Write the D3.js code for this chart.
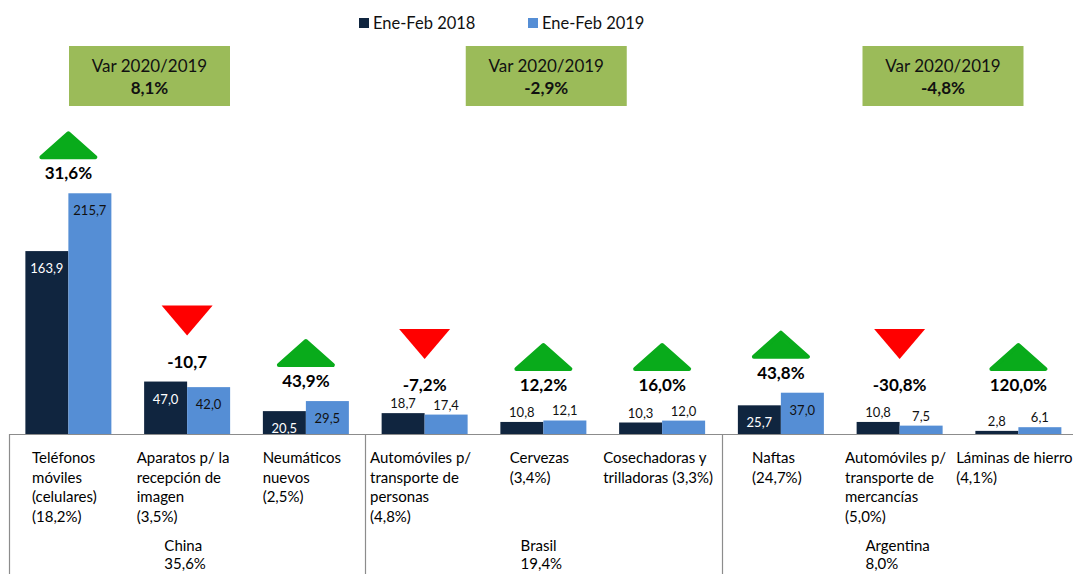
<!DOCTYPE html>
<html>
<head>
<meta charset="utf-8">
<script src="https://cdn.jsdelivr.net/npm/d3@7"></script>
<style>
  html, body { margin: 0; padding: 0; background: #fff; }
  svg { display: block; font-family: Lato, "Open Sans", sans-serif; }
</style>
</head>
<body>
<svg id="chart" width="1073" height="574"></svg>
<script>
// ---------- DATA ----------
const categories = [
  "Teléfonos móviles", "Aparatos p/ la recepción de imagen", "Neumáticos nuevos",
  "Automóviles p/ transporte de personas", "Cervezas", "Cosechadoras y trilladoras",
  "Naftas", "Automóviles p/ transporte de mercancías", "Láminas de hierro"
];
const categoryLines = [
  ["Teléfonos", "móviles", "(celulares)", "(18,2%)"],
  ["Aparatos p/ la", "recepción de", "imagen", "(3,5%)"],
  ["Neumáticos", "nuevos", "(2,5%)"],
  ["Automóviles p/", "transporte de", "personas", "(4,8%)"],
  ["Cervezas", "(3,4%)"],
  ["Cosechadoras y", "trilladoras (3,3%)"],
  ["Naftas", "(24,7%)"],
  ["Automóviles p/", "transporte de", "mercancías", "(5,0%)"],
  ["Láminas de hierro", "(4,1%)"]
];
const seriesNames = ["Ene-Feb 2018", "Ene-Feb 2019"];
const values2018 = [163.9, 47.0, 20.5, 18.7, 10.8, 10.3, 25.7, 10.8, 2.8];
const values2019 = [215.7, 42.0, 29.5, 17.4, 12.1, 12.0, 37.0, 7.5, 6.1];
const variationLabels = ["31,6%", "-10,7", "43,9%", "-7,2%", "12,2%", "16,0%", "43,8%", "-30,8%", "120,0%"];
const groups = ["China", "Brasil", "Argentina"];
const groupShares = ["35,6%", "19,4%", "8,0%"];
const groupVariation = ["8,1%", "-2,9%", "-4,8%"];
const groupMembers = [[0, 1, 2], [3, 4, 5], [6, 7, 8]];

// ---------- STYLE ----------
const colors = ["#10253F", "#558ED5"];
const boxColor = "#9BBB59";
const upColor = "#09AB1B";
const downColor = "#FF0000";
const lineColor = "#8C8C8C";

const W = 1073, H = 574;
const baseY = 434;
const svg = d3.select("#chart");

const x = d3.scaleBand().domain(categories).range([9, 1077.75])
  .paddingInner(0.2758).paddingOuter(0.1379);
const x1 = d3.scaleBand().domain(seriesNames).range([0, x.bandwidth()]);
const y = d3.scaleLinear().domain([0, 250]).range([baseY, 155]);
const fmt = v => d3.format(".1f")(v).replace(".", ",");

const rows = categories.map((c, i) => ({
  cat: c, i,
  vals: [values2018[i], values2019[i]]
}));

// ---------- LEGEND ----------
const legend = svg.append("g");
const legendX = d3.scalePoint().domain(seriesNames).range([359, 528]);
seriesNames.forEach((s, k) => {
  legend.append("rect").attr("x", legendX(s)).attr("y", 18).attr("width", 10).attr("height", 10)
    .attr("fill", colors[k]);
  legend.append("text").attr("x", legendX(s) + 14).attr("y", 29)
    .attr("font-size", 16.5).attr("fill", "#111").text(s);
});

// ---------- GROUP BOXES ----------
const boxX = d3.scalePoint().domain(groups).range([149.5, 943]);
groups.forEach((g, k) => {
  const cx = boxX(g);
  svg.append("rect").attr("x", cx - 80.5).attr("y", 46).attr("width", 161).attr("height", 60)
    .attr("fill", boxColor);
  svg.append("text").attr("x", cx).attr("y", 72).attr("text-anchor", "middle")
    .attr("font-size", 17).attr("fill", "#111").text("Var 2020/2019");
  svg.append("text").attr("x", cx).attr("y", 94).attr("text-anchor", "middle")
    .attr("font-size", 17).attr("font-weight", "bold").attr("fill", "#111").text(groupVariation[k]);
});

// ---------- BARS ----------
const gCat = svg.selectAll("g.cat").data(rows).join("g").attr("class", "cat")
  .attr("transform", d => `translate(${x(d.cat)},0)`);

gCat.selectAll("rect").data(d => d.vals.map((v, k) => ({ v, k })))
  .join("rect")
  .attr("x", d => x1(seriesNames[d.k]))
  .attr("y", d => y(d.v))
  .attr("width", x1.bandwidth())
  .attr("height", d => baseY - y(d.v))
  .attr("fill", d => colors[d.k]);

gCat.selectAll("text.val").data(d => d.vals.map((v, k) => ({ v, k })))
  .join("text").attr("class", "val")
  .attr("x", d => x1(seriesNames[d.k]) + x1.bandwidth() / 2)
  .attr("y", d => d.v >= 20 ? y(d.v) + 22 : y(d.v) - 5)
  .attr("text-anchor", "middle")
  .attr("font-size", 13)
  .attr("fill", d => (d.v >= 20 && d.k === 0) ? "#fff" : "#111")
  .text(d => fmt(d.v));

// ---------- VARIATION ANNOTATIONS ----------
rows.forEach(d => {
  const cx = x(d.cat) + x.bandwidth() / 2;
  const top = y(d3.max(d.vals));
  const ly = Math.min(top - 14, 391);
  const up = d.vals[1] >= d.vals[0];
  svg.append("text").attr("x", cx).attr("y", ly).attr("text-anchor", "middle")
    .attr("font-size", 17).attr("font-weight", "bold").attr("fill", "#000")
    .text(variationLabels[d.i]);
  if (up) {
    const b = ly - 22, h = 24, w = 54;
    svg.append("path")
      .attr("d", `M${cx - w / 2},${b} L${cx},${b - h} L${cx + w / 2},${b} Z`)
      .attr("fill", upColor).attr("stroke", upColor)
      .attr("stroke-width", 4).attr("stroke-linejoin", "round");
  } else {
    const bt = ly - 32, h = 30, w = 51;
    svg.append("path")
      .attr("d", `M${cx - w / 2},${bt - h} L${cx + w / 2},${bt - h} L${cx},${bt} Z`)
      .attr("fill", downColor);
  }
});

// ---------- TABLE BELOW ----------
svg.append("rect").attr("x", 0).attr("y", baseY).attr("width", W).attr("height", H - baseY)
  .attr("fill", "#fff");
const half = (x.step() - x.bandwidth()) / 2;
svg.append("line").attr("x1", 9).attr("x2", W).attr("y1", baseY + 0.5).attr("y2", baseY + 0.5)
  .attr("stroke", lineColor).attr("stroke-width", 1.2);
groupMembers.forEach(m => {
  const gx = Math.round(x(categories[m[0]]) - half) + 0.5;
  svg.append("line").attr("x1", gx).attr("x2", gx).attr("y1", baseY).attr("y2", H)
    .attr("stroke", lineColor).attr("stroke-width", 1.2);
});

// category labels: left-aligned lines, block centred on category
rows.forEach(d => {
  const cx = x(d.cat) + x.bandwidth() / 2 - 4;
  const t = svg.append("text").attr("font-size", 15).attr("fill", "#000");
  categoryLines[d.i].forEach((ln, j) => {
    t.append("tspan").attr("x", 0).attr("y", 463 + j * 19.7).text(ln);
  });
  const bw = t.node().getBBox().width;
  t.attr("transform", `translate(${cx - bw / 2},0)`);
});

// group labels
groups.forEach((g, k) => {
  const m = groupMembers[k];
  const gx0 = x(categories[m[0]]) - half;
  const gx1 = x(categories[m[m.length - 1]]) + x.bandwidth() + half;
  const cx = (gx0 + gx1) / 2 - 2;
  const t = svg.append("text").attr("font-size", 15).attr("fill", "#000");
  t.append("tspan").attr("x", 0).attr("y", 551).text(g);
  t.append("tspan").attr("x", 0).attr("y", 569).text(groupShares[k]);
  const bw = t.node().getBBox().width;
  t.attr("transform", `translate(${cx - bw / 2},0)`);
});
</script>
</body>
</html>
